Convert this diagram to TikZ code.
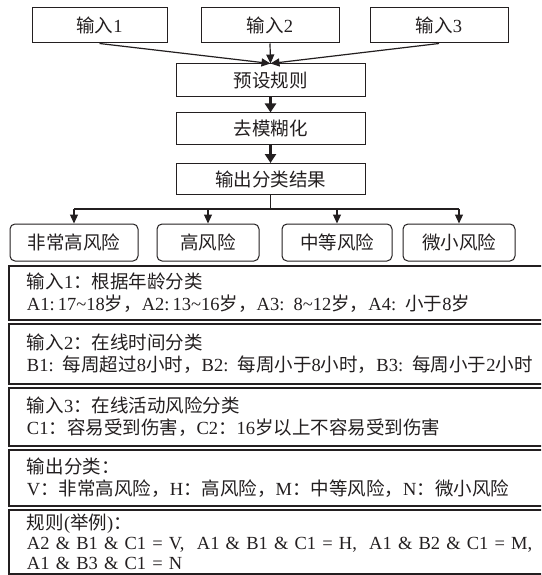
\documentclass[tikz,border=0pt]{standalone}
\usepackage{fontspec}
\setmainfont{Liberation Serif}
\newfontfamily\cjk{Noto Sans CJK SC}
\usetikzlibrary{arrows.meta}
\newcommand\zh[1]{{\cjk #1}}
\definecolor{ink}{RGB}{35,31,32}
\begin{document}
\begin{tikzpicture}[x=1pt,y=-1pt,
  every node/.style={font=\fontsize{18.5}{22}\selectfont, inner sep=0pt, text=ink},
  topbox/.style={draw=ink, line width=1pt, minimum height=35pt},
  midbox/.style={draw=ink, line width=1pt, minimum width=189pt, minimum height=31pt},
  riskbox/.style={draw=ink, line width=1pt, rounded corners=5pt, minimum height=37pt},
  widebox/.style={draw=ink, line width=2pt, text width=520pt, inner xsep=18pt, inner ysep=0pt, align=left},
  arr/.style={draw=ink, line width=1.2pt, -{Triangle[length=9pt,width=8pt]}},
  thickarr/.style={draw=ink, line width=3pt, -{Triangle[length=9pt,width=11pt]}},
  line/.style={draw=ink, line width=1.4pt}]
\useasboundingbox (0,0) rectangle (541,575);
\clip (0,0) rectangle (541,575);
\fill[white] (0,0) rectangle (541,575);

% top inputs
\node[topbox, minimum width=135pt] (in1) at (99.5,25.5) {\zh{输入}1};
\node[topbox, minimum width=138pt] (in2) at (270,25.5) {\zh{输入}2};
\node[topbox, minimum width=138pt] (in3) at (439,25.5) {\zh{输入}3};

% central chain
\node[midbox, minimum height=33pt] (rule) at (270.5,80.5) {\zh{预设规则}};
\node[midbox] (defuzz) at (270.5,128.5) {\zh{去模糊化}};
\node[midbox] (out) at (270.5,179) {\zh{输出分类结果}};

% risk classes
\node[riskbox, minimum width=128pt] (r1) at (74,242.5) {\zh{非常高风险}};
\node[riskbox, minimum width=102pt] (r2) at (208,242.5) {\zh{高风险}};
\node[riskbox, minimum width=110pt] (r3) at (337,242.5) {\zh{中等风险}};
\node[riskbox, minimum width=112pt] (r4) at (459,242.5) {\zh{微小风险}};

% connectors
\draw[arr] (in1.south) -- (rule.north);
\draw[arr] (in2.south) -- (rule.north);
\draw[arr] (in3.south) -- (rule.north);
\draw[thickarr] (rule.south) -- (defuzz.north);
\draw[thickarr] (defuzz.south) -- (out.north);
\coordinate (j) at (270.5,209);
\draw[line] (out.south) -- (j);
\draw[line] (r1.north |- j) -- (r4.north |- j);
\draw[arr] (r1.north |- j) -- (r1.north);
\draw[arr] (r2.north |- j) -- (r2.north);
\draw[arr] (r3.north |- j) -- (r3.north);
\draw[arr] (r4.north |- j) -- (r4.north);

% explanation boxes
\node[widebox, line width=1.3pt, minimum height=54pt] (b1) at (287,293)
  {\zh{输入}1\zh{：根据年龄分类}\\
   A1:\,17\textasciitilde18\zh{岁，}A2:\,13\textasciitilde16\zh{岁，}A3: 8\textasciitilde12\zh{岁，}A4: \zh{小于}8\zh{岁}};
\node[widebox, minimum height=60pt] (b2) at (287,354)
  {\zh{输入}2\zh{：在线时间分类}\\
   B1: \zh{每周超过}8\zh{小时，}B2: \zh{每周小于}8\zh{小时，}B3: \zh{每周小于}2\zh{小时}};
\node[widebox, minimum height=58pt] (b3) at (287,417)
  {\zh{输入}3\zh{：在线活动风险分类}\\
   C1\zh{：容易受到伤害，}C2\zh{：}16\zh{岁以上不容易受到伤害}};
\node[widebox, minimum height=56pt] (b4) at (287,478)
  {\zh{输出分类：}\\
   V\zh{：非常高风险，}H\zh{：高风险，}M\zh{：中等风险，}N\zh{：微小风险}};
\node[widebox, minimum height=64pt, font=\fontsize{18.5}{20}\selectfont] (b5) at (287,542)
  {\zh{规则}(\zh{举例})\zh{：}\\
   A2 \& B1 \& C1 = V,\ \ A1 \& B1 \& C1 = H,\ \ A1 \& B2 \& C1 = M,\\
   A1 \& B3 \& C1 = N};
\end{tikzpicture}
\end{document}
